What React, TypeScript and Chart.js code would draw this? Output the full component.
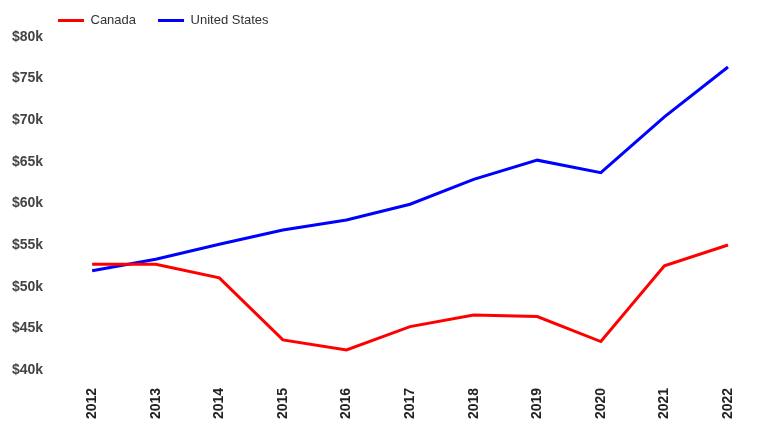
import React, { useEffect, useRef } from "react";
import { Chart, registerables } from "chart.js";

Chart.register(...registerables);

const years = ["2012", "2013", "2014", "2015", "2016", "2017", "2018", "2019", "2020", "2021", "2022"];
const canada = [52700, 52700, 51050, 43600, 42400, 45200, 46600, 46400, 43400, 52500, 55000];
const unitedStates = [51900, 53300, 55100, 56800, 58000, 59900, 62900, 65200, 63700, 70400, 76400];
const yMin = 40000;
const yMax = 80000;
const yStep = 5000;

const FONT = "'Liberation Sans', Arial, sans-serif";

const legendShift = {
  id: "legendShift",
  afterUpdate(chart: any) {
    const lg = chart.legend;
    if (lg) {
      lg.left += 27;
      lg.top -= 8;
    }
  },
};

export default function App() {
  const ref = useRef<HTMLCanvasElement | null>(null);
  useEffect(() => {
    if (!ref.current) return;
    const chart = new Chart(ref.current, {
      type: "line",
      data: {
        labels: years,
        datasets: [
          {
            label: "Canada",
            data: canada,
            borderColor: "#ff0000",
            backgroundColor: "#ff0000",
            borderWidth: 3,
            pointRadius: 0,
            tension: 0,
          },
          {
            label: "United States",
            data: unitedStates,
            borderColor: "#0000ff",
            backgroundColor: "#0000ff",
            borderWidth: 3,
            pointRadius: 0,
            tension: 0,
          },
        ],
      },
      options: {
        responsive: false,
        animation: false,
        layout: { padding: { left: 9, right: 32, top: 0, bottom: 2 } },
        plugins: {
          tooltip: { enabled: false },
          legend: {
            position: "top",
            align: "start",
            maxHeight: 37,
            labels: {
              boxWidth: 26,
              boxHeight: 3,
              padding: 22,
              color: "#333",
              font: { family: FONT, size: 13 },
              generateLabels: (c: any) =>
                Chart.defaults.plugins.legend.labels
                  .generateLabels(c)
                  .map((l: any) => ({ ...l, lineWidth: 0 })),
            },
          },
        },
        scales: {
          x: {
            offset: false,
            grid: { display: false, drawTicks: true, tickLength: 15 },
            border: { display: false },
            ticks: {
              minRotation: 90,
              maxRotation: 90,
              padding: 3,
              color: "#222",
              font: { family: FONT, size: 14, weight: "bold" },
            },
          },
          y: {
            min: yMin,
            max: yMax,
            grid: { display: false, drawTicks: true, tickLength: 46 },
            border: { display: false },
            ticks: {
              stepSize: yStep,
              padding: 3,
              color: "#444",
              font: { family: FONT, size: 14, weight: "bold" },
              callback: (v: any) => "$" + Number(v) / 1000 + "k",
            },
          },
        },
      },
      plugins: [legendShift],
    });
    return () => chart.destroy();
  }, []);
  return (
    <canvas
      ref={ref}
      width={760}
      height={424}
      style={{ position: "absolute", left: 0, top: 0, display: "block" }}
    />
  );
}
